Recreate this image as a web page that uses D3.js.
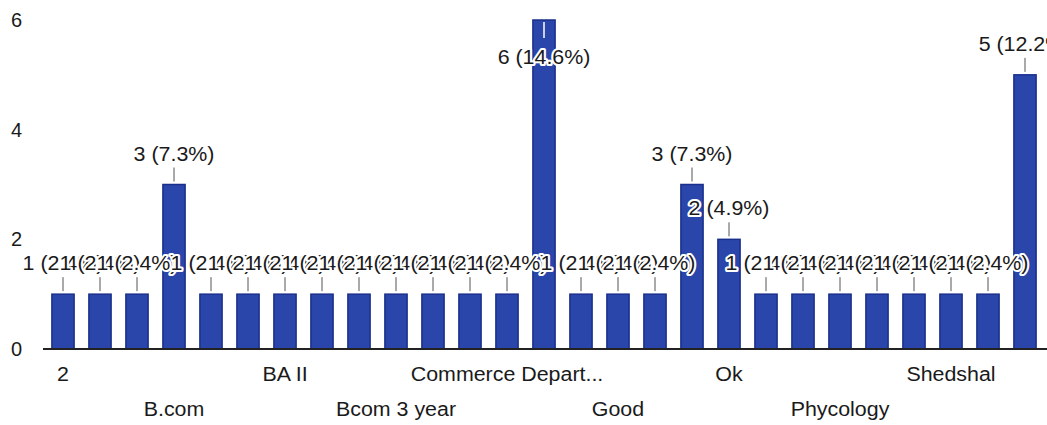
<!DOCTYPE html>
<html>
<head>
<meta charset="utf-8">
<script src="https://cdn.jsdelivr.net/npm/d3@7"></script>
<style>
  html, body { margin: 0; padding: 0; background: #ffffff; }
  svg { display: block; font-family: "Liberation Sans", Arial, sans-serif; }
</style>
</head>
<body>
<svg id="chart" width="1047" height="425"></svg>
<script>
// ---- data ----
const categories = [
  "2", "3", "B com", "B.com", "B.Com 2nd year", "BA", "BA II", "BA III", "BBA",
  "Bcom 3 year", "Bsc", "Commerce", "Commerce Depart...", "Economics", "English",
  "Good", "History", "Nice", "Ok", "Ok good", "Physics", "Phycology",
  "Political science", "Science", "Shedshal", "Sociology", "Very good"
];
const counts = [1, 1, 1, 3, 1, 1, 1, 1, 1, 1, 1, 1, 1, 6, 1, 1, 1, 3, 2, 1, 1, 1, 1, 1, 1, 1, 5];
const yTicks = [0, 2, 4, 6];
const total = d3.sum(counts);

// ---- layout ----
const svg = d3.select("#chart");
const x = d3.scaleBand().domain(categories).range([44.5, 1043.5]).paddingInner(0.4).paddingOuter(0.2);
const y = d3.scaleLinear().domain([0, 6]).range([349, 20]);
const fontSize = 20;
const txtColor = "#1a1a1a";

// y tick labels
svg.append("g").selectAll("text").data(yTicks).join("text")
  .attr("x", 22).attr("y", d => y(d) + 7)
  .attr("text-anchor", "end")
  .attr("font-size", fontSize).attr("fill", txtColor)
  .text(d => d);

// bars
svg.append("g").selectAll("rect").data(counts).join("rect")
  .attr("x", (d, i) => x(categories[i]))
  .attr("y", d => y(d))
  .attr("width", x.bandwidth())
  .attr("height", d => y(0) - y(d))
  .attr("fill", "#2a46aa")
  .attr("stroke", "#1a2f8c")
  .attr("stroke-width", 1.5);

// axis line
svg.append("line")
  .attr("x1", 43).attr("x2", 1047)
  .attr("y1", y(0)).attr("y2", y(0))
  .attr("stroke", "#222").attr("stroke-width", 2);

// x labels (every third, alternating rows)
svg.append("g").selectAll("text")
  .data(categories.map((c, i) => ({ c, i })).filter(d => d.i % 3 === 0))
  .join("text")
  .attr("transform", d => `translate(${x(d.c) + x.bandwidth() / 2},${(d.i / 3) % 2 === 0 ? 381 : 416}) scale(1.07,1)`)
  .attr("text-anchor", "middle")
  .attr("font-size", fontSize).attr("fill", txtColor)
  .text(d => d.c);

// annotations
const ann = svg.append("g");
counts.forEach((v, i) => {
  const cx = x(categories[i]) + x.bandwidth() / 2;
  const top = y(v);
  const inside = top - 45 < 0;
  const label = `${v} (${(v / total * 100).toFixed(1)}%)`;
  if (inside) {
    ann.append("line").attr("x1", cx).attr("x2", cx)
      .attr("y1", top + 2).attr("y2", top + 18)
      .attr("stroke", "#ffffff").attr("stroke-width", 1.5);
    ann.append("text")
      .attr("transform", `translate(${cx},${top + 44}) scale(1.07,1)`)
      .attr("text-anchor", "middle").attr("font-size", fontSize)
      .attr("fill", txtColor).attr("stroke", "#fff").attr("stroke-width", 4)
      .attr("paint-order", "stroke").attr("stroke-linejoin", "round")
      .text(label);
  } else {
    ann.append("line").attr("x1", cx).attr("x2", cx)
      .attr("y1", top - 17).attr("y2", top - 3)
      .attr("stroke", "#555").attr("stroke-width", 1);
    ann.append("text")
      .attr("transform", `translate(${cx},${top - 24}) scale(1.07,1)`)
      .attr("text-anchor", "middle").attr("font-size", fontSize)
      .attr("fill", txtColor).attr("stroke", "#fff").attr("stroke-width", 4)
      .attr("paint-order", "stroke").attr("stroke-linejoin", "round")
      .text(label);
  }
});
</script>
</body>
</html>
